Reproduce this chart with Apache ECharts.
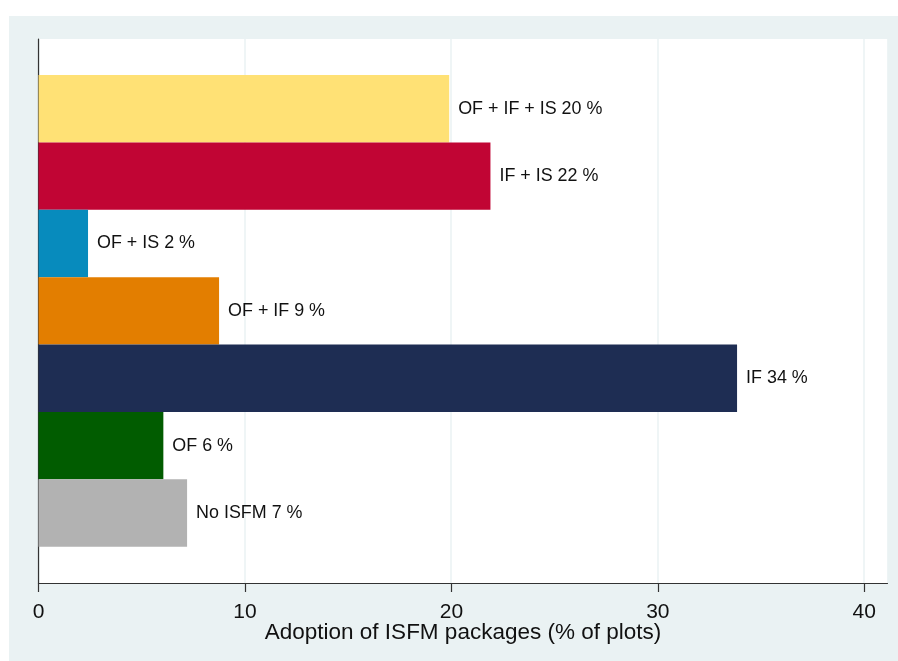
<!DOCTYPE html>
<html><head><meta charset="utf-8">
<script src="https://cdn.jsdelivr.net/npm/echarts@6/dist/echarts.min.js"></script>
<style>html,body{margin:0;padding:0;background:#fff}#c{width:898px;height:661px}</style>
</head><body><div id="c"></div>
<script>
const categories = ["OF + IF + IS", "IF + IS", "OF + IS", "OF + IF", "IF", "OF", "No ISFM"];
const values = [19.9, 21.9, 2.4, 8.75, 33.85, 6.05, 7.2];
const labelPct = [20, 22, 2, 9, 34, 6, 7];
const colors = ["#FFE175", "#C10534", "#078BBD", "#E37E00", "#1E2D53", "#015C00", "#B2B2B2"];
const tickMax = 40;
const xMax = 41.14;

const chart = echarts.init(document.getElementById('c'), null, {renderer: 'canvas'});
const font = 'Liberation Sans, Arial, sans-serif';
chart.setOption({
  animation: false,
  backgroundColor: '#ffffff',
  graphic: [{type: 'rect', shape: {x: 9, y: 16, width: 889, height: 645}, style: {fill: '#EAF2F3'}, z: -10}],
  grid: [
    {left: 38.5, right: 10.5, top: 39, bottom: 78, show: true, backgroundColor: '#ffffff', borderWidth: 0},
    {left: 38.5, right: 10.5, top: 75, bottom: 114.3},
    {left: 38.5, right: 33.7, top: 39, bottom: 78}
  ],
  xAxis: [
    {gridIndex: 0, type: 'value', min: 0, max: xMax, interval: 10,
     axisLine: {show: true, onZero: false, lineStyle: {color: '#333', width: 1.2}},
     axisTick: {show: false}, axisLabel: {show: false},
     splitLine: {show: true, lineStyle: {color: '#EAF2F3', width: 1.5}},
     name: 'Adoption of ISFM packages (% of plots)', nameLocation: 'middle', nameGap: 38,
     nameTextStyle: {color: '#111', fontSize: 22.5, fontFamily: font}},
    {gridIndex: 1, type: 'value', min: 0, max: xMax, show: false, splitLine: {show: false}},
    {gridIndex: 2, type: 'value', min: 0, max: tickMax, interval: 10,
     axisLine: {show: false, onZero: false},
     axisTick: {show: true, length: 9, lineStyle: {color: '#333', width: 1.2}},
     axisLabel: {color: '#111', fontSize: 21, fontFamily: font, margin: 19},
     splitLine: {show: false}}
  ],
  yAxis: [
    {gridIndex: 0, type: 'value', min: 0, max: 1, axisLine: {show: true, lineStyle: {color: '#333', width: 1.2}},
     axisTick: {show: false}, axisLabel: {show: false}, splitLine: {show: false}},
    {gridIndex: 1, type: 'category', data: categories, inverse: true, show: false},
    {gridIndex: 2, type: 'value', show: false}
  ],
  series: [{
    type: 'bar', xAxisIndex: 1, yAxisIndex: 1,
    barCategoryGap: '0%',
    data: values.map((v, i) => ({value: v, itemStyle: {color: colors[i]}})),
    label: {show: true, position: 'right', distance: 9, color: '#111', fontSize: 17.9, fontFamily: font,
      formatter: p => categories[p.dataIndex] + ' ' + labelPct[p.dataIndex] + ' %'}
  }]
});
</script></body></html>
